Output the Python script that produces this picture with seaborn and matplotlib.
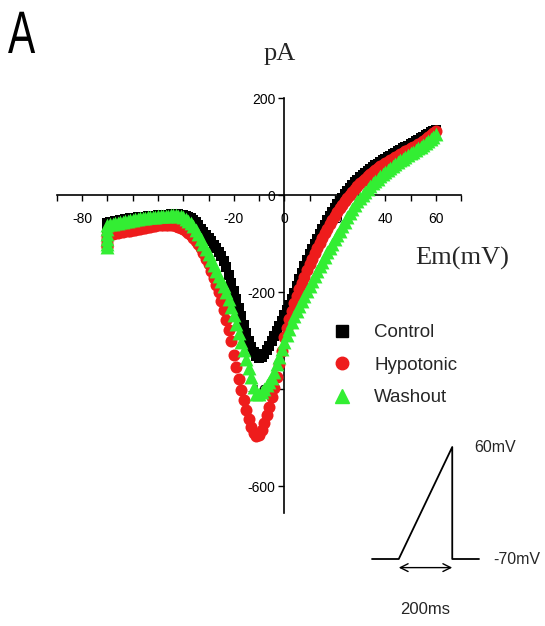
###################################################################################################
# Required Libraries
###################################################################################################
import matplotlib
matplotlib.use("Agg")
import matplotlib.pyplot as plt
from matplotlib.lines import Line2D
from matplotlib.textpath import TextPath
from matplotlib.patches import PathPatch
from matplotlib.font_manager import FontProperties
from matplotlib.transforms import Affine2D
import seaborn as sns

###################################################################################################
# Data
###################################################################################################
# membrane potential of the ramp (mV), one sample per mV
volts = [
    -70, -69, -68, -67, -66, -65, -64, -63, -62, -61,
    -60, -59, -58, -57, -56, -55, -54, -53, -52, -51,
    -50, -49, -48, -47, -46, -45, -44, -43, -42, -41,
    -40, -39, -38, -37, -36, -35, -34, -33, -32, -31,
    -30, -29, -28, -27, -26, -25, -24, -23, -22, -21,
    -20, -19, -18, -17, -16, -15, -14, -13, -12, -11,
    -10, -9, -8, -7, -6, -5, -4, -3, -2, -1,
    0, 1, 2, 3, 4, 5, 6, 7, 8, 9,
    10, 11, 12, 13, 14, 15, 16, 17, 18, 19,
    20, 21, 22, 23, 24, 25, 26, 27, 28, 29,
    30, 31, 32, 33, 34, 35, 36, 37, 38, 39,
    40, 41, 42, 43, 44, 45, 46, 47, 48, 49,
    50, 51, 52, 53, 54, 55, 56, 57, 58, 59,
    60,
]

# current (pA)
control = [
    -58, -56, -55, -54, -53, -52, -51, -50, -49, -48,
    -48, -47, -46, -46, -45, -45, -44, -44, -43, -43,
    -42, -42, -41, -41, -41, -40, -40, -40, -40, -41,
    -42, -43, -45, -48, -52, -56, -62, -69, -76, -83,
    -89, -95, -103, -110, -118, -126, -135, -149, -164, -181,
    -198, -214, -232, -250, -268, -285, -300, -313, -324, -332,
    -336, -334, -328, -320, -310, -300, -290, -280, -270, -259,
    -248, -237, -226, -214, -201, -187, -173, -160, -147, -134,
    -122, -111, -100, -90, -80, -70, -61, -52, -43, -35,
    -27, -19, -12, -5, 2, 8, 14, 20, 26, 32,
    37, 42, 46, 50, 54, 58, 62, 65, 68, 72,
    75, 78, 81, 84, 87, 90, 93, 96, 99, 102,
    105, 108, 111, 114, 117, 120, 123, 126, 129, 132,
    135,
]

hypotonic = [
    -82, -81, -80, -79, -78, -77, -76, -75, -74, -73,
    -72, -71, -70, -69, -68, -67, -66, -65, -64, -63,
    -62, -61, -61, -61, -61, -62, -62, -63, -65, -67,
    -70, -74, -78, -83, -88, -94, -101, -110, -120, -131,
    -143, -156, -170, -185, -200, -218, -237, -257, -278, -300,
    -330, -354, -378, -401, -423, -443, -461, -477, -490, -497,
    -494, -484, -470, -454, -436, -417, -397, -374, -349, -321,
    -292, -273, -255, -238, -223, -208, -194, -181, -168, -155,
    -143, -131, -120, -109, -98, -88, -78, -69, -60, -51,
    -43, -35, -27, -20, -13, -6, 1, 7, 13, 19,
    24, 29, 34, 39, 43, 47, 51, 55, 59, 62,
    66, 69, 72, 75, 78, 81, 84, 87, 90, 93,
    96, 99, 102, 105, 108, 112, 116, 120, 124, 128,
    133,
]

washout = [
    -62, -60, -59, -58, -57, -56, -55, -54, -53, -52,
    -51, -50, -49, -48, -48, -47, -46, -46, -45, -45,
    -44, -44, -43, -43, -43, -42, -42, -42, -43, -44,
    -46, -49, -53, -58, -64, -72, -80, -90, -101, -111,
    -122, -133, -145, -156, -166, -177, -188, -200, -214, -231,
    -248, -266, -284, -302, -320, -338, -356, -375, -395, -410,
    -409, -405, -399, -392, -385, -376, -364, -349, -334, -318,
    -303, -289, -275, -262, -250, -239, -228, -218, -207, -197,
    -187, -177, -167, -157, -147, -137, -127, -118, -109, -100,
    -91, -82, -73, -64, -55, -46, -37, -29, -21, -13,
    -6, 1, 7, 13, 19, 24, 29, 34, 39, 44,
    48, 52, 56, 60, 64, 68, 72, 75, 79, 82,
    86, 89, 93, 96, 100, 104, 108, 112, 116, 120,
    125,
]

# capacitive transient at the start of the ramp
tail_volts = [-70, -70, -70, -70, -70]
control_tail = [-66, -76, -86, -96, -104]
hypotonic_tail = [-88, -94, -100, -104, -106]
washout_tail = [-70, -80, -90, -100, -106]

# voltage protocol (ms, mV)
protocol_t = [-100, 0, 200, 200, 300]
protocol_v = [-70, -70, 60, -70, -70]

series_names = ["Control", "Hypotonic", "Washout"]

W, H = 545, 626


###################################################################################################
# Function name = DrawIV
# description = draws the three I-V ramp curves on crossing axes
###################################################################################################
def DrawIV(fig):
    ax = fig.add_axes([57 / W, 1 - 513 / H, 404 / W, 415 / H])
    ax.set_xlim(-90, 70)
    ax.set_ylim(-655, 200)

    sns.scatterplot(x=volts + tail_volts, y=control + control_tail, color="black",
                    marker="s", s=48, linewidth=0, ax=ax, legend=False, zorder=3)
    sns.scatterplot(x=volts + tail_volts, y=hypotonic + hypotonic_tail, color="#ee1c1c",
                    marker="o", s=75, linewidth=0, ax=ax, legend=False, zorder=3)
    sns.scatterplot(x=volts + tail_volts, y=washout + washout_tail, color="#33ee33",
                    marker="^", s=100, linewidth=0, ax=ax, legend=False, zorder=3)

    ax.set_xlabel("")
    ax.set_ylabel("")
    for side in ["top", "right"]:
        ax.spines[side].set_visible(False)
    for side in ["left", "bottom"]:
        ax.spines[side].set_position(("data", 0))
        ax.spines[side].set_color("black")
        ax.spines[side].set_linewidth(1.2)

    ax.set_xticks([-80, -60, -40, -20, 0, 20, 40, 60])
    ax.set_xticks(list(range(-90, 71, 10)), minor=True)
    ax.set_yticks([-600, -400, -200, 0, 200])
    ax.tick_params(axis="x", which="both", direction="out", length=4.5, width=1,
                   pad=8, labelsize=10, colors="black", bottom=True)
    ax.tick_params(axis="y", which="both", direction="out", length=4, width=1,
                   pad=2.5, labelsize=10, colors="black", left=True)
    ax.patch.set_alpha(0)

    handles = [
        Line2D([], [], ls="none", marker="s", color="black", markersize=8),
        Line2D([], [], ls="none", marker="o", color="#ee1c1c", markersize=9),
        Line2D([], [], ls="none", marker="^", color="#33ee33", markersize=10),
    ]
    ax.legend(handles, series_names, loc="upper left",
              bbox_to_anchor=(333 / W, 1 - 324 / H), bbox_transform=fig.transFigure,
              frameon=False, fontsize=13.5, handlelength=1.0, handletextpad=1.2,
              labelspacing=0.82, borderpad=0, borderaxespad=0)
    return ax


###################################################################################################
# Function name = DrawProtocol
# description = small ramp protocol sketch at bottom right
###################################################################################################
def DrawProtocol(fig):
    ins = fig.add_axes([372 / W, 1 - 559 / H, 107 / W, 112 / H])
    ins.set_xlim(-100, 300)
    ins.set_ylim(-70, 60)
    ins.axis("off")
    ins.plot(protocol_t, protocol_v, color="black", lw=1.3, clip_on=False)
    ins.annotate("", xy=(0, -80), xytext=(200, -80), annotation_clip=False,
                 arrowprops=dict(arrowstyle="<->", color="black", lw=1, mutation_scale=14,
                                 shrinkA=0, shrinkB=0))
    ins.text(282, 60, "60mV", ha="left", va="center", fontsize=11.5, clip_on=False)
    ins.text(352, -70, "-70mV", ha="left", va="center", fontsize=11.5, clip_on=False)
    ins.text(100, -129, "200ms", ha="center", va="center", fontsize=12, clip_on=False)


###################################################################################################
# Function name = DrawPanelLetter
# description = narrow panel letter "A" (text outline squeezed horizontally)
###################################################################################################
def DrawPanelLetter(fig):
    deco = fig.add_axes([0, 0, 1, 1], zorder=-1)
    deco.set_xlim(0, W)
    deco.set_ylim(0, H)
    deco.axis("off")
    prop = FontProperties(family="Liberation Sans", weight="normal")
    path = TextPath((0, 0), "A", size=60, prop=prop)
    path = Affine2D().scale(0.68, 1.0).translate(8, H - 53).transform_path(path)
    deco.add_patch(PathPatch(path, facecolor="black", edgecolor="none"))


###################################################################################################
# Function name = main
###################################################################################################
def main():
    sns.set_theme(style="white")
    plt.rcParams["font.family"] = ["Liberation Sans", "DejaVu Sans"]
    plt.rcParams["axes.unicode_minus"] = False

    fig = plt.figure(figsize=(W / 100, H / 100), dpi=100)
    DrawPanelLetter(fig)
    DrawIV(fig)
    DrawProtocol(fig)

    serif = ["Liberation Serif", "DejaVu Serif"]
    fig.text(280 / W, 1 - 54 / H, "pA", family=serif, fontsize=19, ha="center", va="center")
    fig.text(415 / W, 1 - 258 / H, "Em(mV)", family=serif, fontsize=19, ha="left", va="center")

    fig.savefig("out.png", dpi=100)


if __name__ == "__main__":
    main()
